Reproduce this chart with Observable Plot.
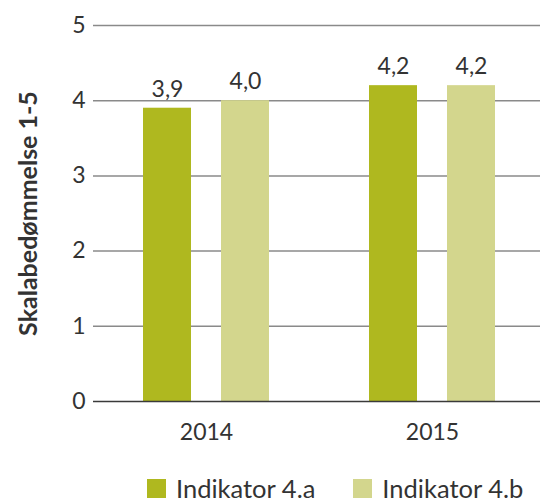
<!DOCTYPE html>
<html>
<head>
<meta charset="utf-8">
<script src="https://cdn.jsdelivr.net/npm/d3@7"></script>
<script src="https://cdn.jsdelivr.net/npm/@observablehq/plot@0.6"></script>
<style>
  html, body { margin: 0; padding: 0; background: #fff; overflow: hidden; }
  #wrap { position: relative; width: 540px; height: 500px; overflow: hidden; font-family: Lato, sans-serif; }
  #chart svg { max-width: none !important; }
  #legend { position: absolute; left: 147px; top: 473px; display: flex; align-items: center; font-size: 25.5px; line-height: 30px; color: #333; white-space: nowrap; }
  .item { display: flex; align-items: center; margin-right: 38px; }
  .sw { width: 19px; height: 19px; margin-right: 10px; }
</style>
</head>
<body>
<div id="wrap"><div id="chart"></div><div id="legend"></div></div>
<script>
const years = ["2014", "2015"];
const indicators = ["Indikator 4.a", "Indikator 4.b"];
const values4a = [3.9, 4.2];
const values4b = [4.0, 4.2];
const yTicks = [0, 1, 2, 3, 4, 5];
const yTitle = "Skalabedømmelse 1-5";
const colors = ["#afb81f", "#d3d68d"];

const data = years.flatMap((yr, i) => [
  {year: yr, ind: indicators[0], v: values4a[i]},
  {year: yr, ind: indicators[1], v: values4b[i]}
]);

const chart = Plot.plot({
  width: 545,
  height: 460,
  marginLeft: 92,
  marginRight: 0,
  marginTop: 25,
  marginBottom: 59,
  style: {fontFamily: "Lato, sans-serif", fontSize: "23px", color: "#333", background: "#fff"},
  fx: {domain: years, padding: 0, label: null, axis: "bottom", tickSize: 0, tickPadding: 22},
  x: {domain: indicators, paddingInner: 0.39, paddingOuter: 0.63, axis: null},
  y: {domain: [0, 5], ticks: yTicks, tickSize: 0, tickPadding: 8, tickFormat: d => String(d),
      label: yTitle, labelAnchor: "center", labelOffset: 74},
  color: {domain: indicators, range: colors},
  marks: [
    Plot.ruleY(yTicks.filter(d => d > 0), {stroke: "#8a8a8a", strokeWidth: 1.5}),
    Plot.barY(data, {fx: "year", x: "ind", y: "v", fill: "ind"}),
    Plot.ruleY([0], {stroke: "#3a3a3a", strokeWidth: 1.5}),
    Plot.text(data, {fx: "year", x: "ind", y: "v", text: d => d.v.toFixed(1).replace(".", ","), dy: -19, fill: "#333", fontSize: 23})
  ]
});
document.getElementById("chart").appendChild(chart);
d3.select(chart).selectAll("text").filter(function() { return this.textContent.startsWith("Skala"); })
  .each(function() {
    const sel = d3.select(this);
    sel.selectAll("tspan").remove();
    sel.text(yTitle);
  })
  .attr("font-weight", "bold").attr("font-size", "25px");

const legend = document.getElementById("legend");
indicators.forEach((name, i) => {
  const item = document.createElement("div");
  item.className = "item";
  const sw = document.createElement("div");
  sw.className = "sw";
  sw.style.background = colors[i];
  const t = document.createElement("span");
  t.textContent = name;
  item.appendChild(sw);
  item.appendChild(t);
  legend.appendChild(item);
});
</script>
</body>
</html>
